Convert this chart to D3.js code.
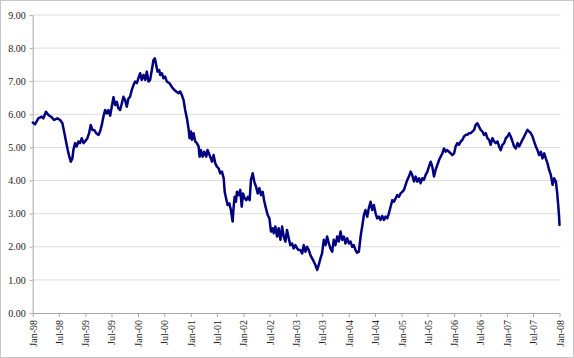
<!DOCTYPE html>
<html><head><meta charset="utf-8">
<script src="https://cdn.jsdelivr.net/npm/d3@7"></script>
<style>
body{margin:0;background:#fff}
svg{display:block}
text{font-family:"Liberation Serif","Times New Roman",serif}
</style>
</head><body><svg id="c" width="574" height="358"></svg>
<script>
const dates = [
"1998-01-02","1998-01-17","1998-02-09","1998-03-04","1998-03-16","1998-04-03","1998-04-20","1998-05-13","1998-05-29","1998-06-21",
"1998-07-10","1998-07-26","1998-08-09","1998-08-20","1998-09-01","1998-09-12","1998-09-22","1998-10-03","1998-10-10","1998-10-22",
"1998-11-02","1998-11-14","1998-11-25","1998-12-07","1998-12-19","1998-12-30","1999-01-15","1999-01-27","1999-02-07","1999-02-19",
"1999-03-03","1999-03-17","1999-04-02","1999-04-13","1999-04-25","1999-05-06","1999-05-18","1999-05-30","1999-06-10","1999-06-22",
"1999-07-03","1999-07-15","1999-07-26","1999-08-07","1999-08-18","1999-08-30","1999-09-11","1999-09-22","1999-10-04","1999-10-15",
"1999-10-27","1999-11-07","1999-11-19","1999-12-01","1999-12-12","1999-12-24","2000-01-04","2000-01-16","2000-01-27","2000-02-08",
"2000-02-20","2000-03-02","2000-03-14","2000-03-25","2000-04-06","2000-04-17","2000-04-27","2000-05-06","2000-05-15","2000-05-27",
"2000-06-03","2000-06-14","2000-06-26","2000-07-07","2000-07-19","2000-08-06","2000-08-23","2000-09-08","2000-09-22","2000-10-08",
"2000-10-20","2000-10-31","2000-11-12","2000-11-23","2000-12-05","2000-12-16","2000-12-23","2001-01-02","2001-01-09","2001-01-20",
"2001-02-01","2001-02-12","2001-02-24","2001-03-03","2001-03-12","2001-03-24","2001-04-04","2001-04-18","2001-04-27","2001-05-11",
"2001-05-28","2001-06-08","2001-06-20","2001-07-01","2001-07-13","2001-07-24","2001-08-05","2001-08-17","2001-08-24","2001-09-02",
"2001-09-13","2001-09-25","2001-10-06","2001-10-18","2001-10-25","2001-11-01","2001-11-10","2001-11-17","2001-11-29","2001-12-10",
"2001-12-20","2001-12-29","2002-01-09","2002-01-21","2002-02-01","2002-02-13","2002-02-22","2002-03-06","2002-03-17","2002-03-29",
"2002-04-10","2002-04-21","2002-05-03","2002-05-14","2002-05-26","2002-06-06","2002-06-18","2002-06-30","2002-07-11","2002-07-23",
"2002-07-30","2002-08-10","2002-08-22","2002-09-02","2002-09-14","2002-09-26","2002-10-07","2002-10-19","2002-10-30","2002-11-11",
"2002-11-22","2002-12-04","2002-12-15","2002-12-27","2003-01-08","2003-01-19","2003-01-31","2003-02-12","2003-02-23","2003-03-07",
"2003-03-18","2003-03-30","2003-04-10","2003-04-22","2003-05-04","2003-05-15","2003-05-27","2003-06-07","2003-06-19","2003-06-30",
"2003-07-12","2003-07-24","2003-08-04","2003-08-16","2003-08-27","2003-09-08","2003-09-19","2003-10-01","2003-10-13","2003-10-24",
"2003-11-05","2003-11-16","2003-11-28","2003-12-09","2003-12-21","2004-01-02","2004-01-13","2004-01-25","2004-02-05","2004-02-17",
"2004-02-28","2004-03-11","2004-03-23","2004-04-03","2004-04-15","2004-04-26","2004-05-08","2004-05-19","2004-05-31","2004-06-12",
"2004-06-23","2004-07-05","2004-07-16","2004-07-28","2004-08-08","2004-08-20","2004-09-01","2004-09-12","2004-09-24","2004-10-05",
"2004-10-17","2004-10-29","2004-11-09","2004-11-21","2004-12-02","2004-12-14","2004-12-25","2005-01-06","2005-01-18","2005-01-29",
"2005-02-10","2005-02-21","2005-03-05","2005-03-16","2005-03-28","2005-04-09","2005-04-20","2005-05-02","2005-05-13","2005-05-25",
"2005-06-05","2005-06-17","2005-06-29","2005-07-10","2005-07-22","2005-08-02","2005-08-14","2005-08-25","2005-09-06","2005-09-18",
"2005-09-29","2005-10-11","2005-10-22","2005-11-03","2005-11-14","2005-11-26","2005-12-08","2005-12-19","2005-12-31","2006-01-11",
"2006-01-23","2006-02-03","2006-02-15","2006-02-27","2006-03-10","2006-03-22","2006-04-02","2006-04-14","2006-04-25","2006-05-07",
"2006-05-19","2006-05-30","2006-06-11","2006-06-22","2006-07-04","2006-07-16","2006-07-27","2006-08-08","2006-08-19","2006-08-31",
"2006-09-11","2006-09-23","2006-10-05","2006-10-16","2006-10-28","2006-11-08","2006-11-20","2006-12-01","2006-12-13","2006-12-25",
"2007-01-05","2007-01-17","2007-01-28","2007-02-09","2007-02-20","2007-03-04","2007-03-16","2007-03-27","2007-04-08","2007-04-19",
"2007-05-01","2007-05-12","2007-05-24","2007-06-05","2007-06-16","2007-06-28","2007-07-09","2007-07-21","2007-08-01","2007-08-13",
"2007-08-25","2007-09-05","2007-09-17","2007-09-28","2007-10-10","2007-10-21","2007-11-02","2007-11-14","2007-11-25","2007-12-07",
"2007-12-16","2007-12-24","2007-12-29","2008-01-01"
];
const values = [
5.75,5.70,5.88,5.93,5.88,6.08,5.98,5.91,5.83,5.88,
5.83,5.73,5.43,5.18,4.92,4.72,4.57,4.67,4.92,5.13,
5.03,5.18,5.13,5.28,5.13,5.18,5.28,5.43,5.68,5.53,
5.53,5.43,5.38,5.48,5.68,5.93,6.13,6.03,6.13,5.96,
6.23,6.52,6.28,6.38,6.18,6.13,6.33,6.53,6.43,6.23,
6.48,6.53,6.74,6.89,6.99,6.94,7.09,7.24,7.04,7.19,
7.04,7.29,6.99,7.04,7.34,7.64,7.69,7.49,7.29,7.34,
7.19,7.24,7.09,7.14,6.99,6.94,6.82,6.74,6.69,6.64,
6.69,6.58,6.43,6.13,5.88,5.58,5.28,5.48,5.23,5.43,
5.18,5.13,5.03,4.72,4.92,4.72,4.87,4.72,4.92,4.77,
4.57,4.77,4.52,4.42,4.37,4.22,4.27,4.07,3.66,3.47,
3.26,3.31,3.11,2.76,3.21,3.51,3.36,3.66,3.56,3.72,
3.21,3.61,3.47,3.41,3.51,3.41,4.02,4.22,3.97,3.82,
3.61,3.77,3.56,3.66,3.36,3.16,2.96,2.86,2.46,2.56,
2.41,2.61,2.31,2.56,2.21,2.61,2.31,2.16,2.51,2.26,
2.05,2.10,1.95,2.05,1.95,1.90,1.90,1.80,2.05,1.85,
2.00,1.90,1.75,1.65,1.55,1.45,1.30,1.45,1.65,1.80,
2.21,2.05,2.31,2.10,1.95,1.85,2.21,2.05,2.31,2.16,
2.46,2.21,2.31,2.10,2.26,2.10,2.16,2.00,2.05,1.90,
1.82,1.85,2.31,2.61,2.96,3.11,2.91,3.16,3.36,3.11,
3.26,3.01,2.86,2.91,2.81,2.93,2.81,2.91,2.86,3.01,
3.21,3.41,3.36,3.46,3.56,3.51,3.61,3.66,3.72,3.87,
4.02,4.12,4.27,4.17,3.97,4.12,3.97,4.07,3.92,4.07,
4.02,4.17,4.27,4.42,4.57,4.42,4.12,4.32,4.47,4.62,
4.72,4.82,4.97,4.87,4.92,4.87,4.82,4.77,4.82,5.03,
5.13,5.08,5.18,5.23,5.33,5.38,5.38,5.43,5.43,5.48,
5.53,5.68,5.73,5.63,5.53,5.48,5.38,5.43,5.28,5.23,
5.08,5.28,5.18,5.13,5.18,5.03,4.92,5.08,5.13,5.28,
5.33,5.43,5.33,5.18,5.03,4.97,5.13,5.03,5.13,5.23,
5.33,5.43,5.53,5.48,5.43,5.33,5.18,5.03,4.92,4.77,
4.87,4.67,4.82,4.67,4.52,4.32,4.17,3.87,4.07,3.97,
3.62,3.21,2.91,2.66
];
const yTickValues = [0,1,2,3,4,5,6,7,8,9];
const xTickDates = ["1998-01-01","1998-07-01","1999-01-01","1999-07-01","2000-01-01","2000-07-01","2001-01-01","2001-07-01",
"2002-01-01","2002-07-01","2003-01-01","2003-07-01","2004-01-01","2004-07-01","2005-01-01","2005-07-01","2006-01-01",
"2006-07-01","2007-01-01","2007-07-01","2008-01-01"];

(function(){
const parse = d3.timeParse("%Y-%m-%d");
const data = dates.map((d,i)=>({date:parse(d), v:values[i]}));
const xTicks = xTickDates.map(parse);

const svg = d3.select("#c");
const W = 574, H = 358;
const pL = 32.7, pR = 559.5, pT = 15, pB = 313;

svg.append("rect").attr("x",0.5).attr("y",0.5).attr("width",W-1).attr("height",H-1)
  .attr("fill","#fff").attr("stroke","#c8c8c8");

const x = d3.scaleTime().domain([parse("1998-01-01"), parse("2008-01-01")]).range([pL, pR]);
const y = d3.scaleLinear().domain([0,9]).range([pB, pT]);

svg.append("g").selectAll("line").data(yTickValues.filter(v=>v>0)).join("line")
  .attr("x1",pL).attr("x2",pR+1)
  .attr("y1",d=>y(d)).attr("y2",d=>y(d))
  .attr("stroke","#dcdcdc").attr("stroke-width",1);

const gy = svg.append("g").attr("transform",`translate(${pL},0)`)
  .call(d3.axisLeft(y).tickValues(yTickValues).tickFormat(d3.format(".2f")).tickSize(3).tickSizeOuter(0).tickPadding(4));
gy.select(".domain").attr("stroke","#a8a8a8");
gy.selectAll(".tick line").attr("stroke","#a8a8a8");
gy.selectAll("text").attr("font-size","10px").attr("fill","#222")
  .attr("font-family","'Liberation Serif','Times New Roman',serif");

const gx = svg.append("g").attr("transform",`translate(0,${pB})`)
  .call(d3.axisBottom(x).tickValues(xTicks).tickFormat(d3.timeFormat("%b-%y")).tickSize(4).tickSizeOuter(0));
gx.select(".domain").attr("stroke","#a8a8a8");
gx.selectAll(".tick line").attr("stroke","#a8a8a8");
gx.selectAll("text")
  .attr("font-size","10px").attr("fill","#222")
  .attr("font-family","'Liberation Serif','Times New Roman',serif")
  .attr("transform","rotate(-90)")
  .attr("text-anchor","end")
  .attr("x",-7).attr("y",0).attr("dy","0.35em");

const line = d3.line().x(d=>x(d.date)).y(d=>y(d.v));
svg.append("path").datum(data)
  .attr("fill","none").attr("stroke","#000080").attr("stroke-width",2.5)
  .attr("stroke-linejoin","round").attr("stroke-linecap","round")
  .attr("d",line);
})();
</script>
</body></html>
